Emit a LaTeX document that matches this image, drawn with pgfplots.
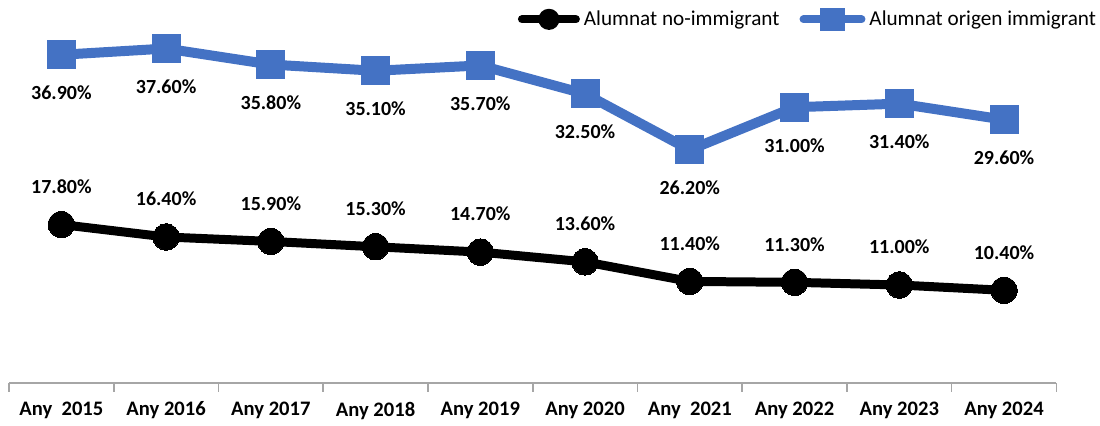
\documentclass[border=0pt]{standalone}
\usepackage{fontspec}
\setmainfont{Carlito}
\usepackage{pgfplots}
\pgfplotsset{compat=1.18}
\definecolor{serblue}{RGB}{68,114,196}
\definecolor{axgray}{RGB}{166,166,166}

\pgfplotstableread{
x nonimm imm
0 17.8 36.9
1 16.4 37.6
2 15.9 35.8
3 15.3 35.1
4 14.7 35.7
5 13.6 32.5
6 11.4 26.2
7 11.3 31.0
8 11.0 31.4
9 10.4 29.6
}\dades

\begin{document}
\begin{tikzpicture}
\begin{axis}[
  /pgf/number format/assume math mode=true,
  scale only axis,
  width=524pt,height=189pt,
  xmin=-0.5,xmax=9.5,ymin=0,ymax=42.5,
  hide y axis,
  axis x line=bottom,
  x axis line style={-,draw=axgray,line width=0.8pt},
  xtick={0,...,9},
  xticklabels={Any\ \ 2015,Any 2016,Any 2017,Any 2018,Any 2019,Any 2020,Any\ \ 2021,Any 2022,Any 2023,Any 2024},
  major tick length=0pt,
  xticklabel style={font=\bfseries\fontsize{10.3}{12}\selectfont,yshift=-6pt},
  extra x ticks={-0.5,0.5,...,9.5},
  extra x tick labels={},
  extra x tick style={major tick length=4.5pt,tick align=outside,tick style={draw=axgray,line width=0.8pt}},
  clip=false,
  legend columns=2,
  legend style={draw=none,fill=none,at={(rel axis cs:1.042,0.962)},anchor=east,
    font=\fontsize{10.6}{12}\selectfont,inner sep=0pt,
    /tikz/every even column/.append style={column sep=8pt}},
  legend cell align=left,
  nodes near coords={\pgfmathprintnumber[fixed,fixed zerofill,precision=2]{\pgfplotspointmeta}\%},
  every node near coord/.append style={font=\bfseries\fontsize{10}{12}\selectfont,anchor=center},
]
\addplot[black,line width=4.5pt,mark=*,mark size=6.6pt,mark options={draw=none,line width=0pt},
  every node near coord/.append style={yshift=19pt,black},
  legend image code/.code={\draw[black,line width=4pt,line cap=round] (0pt,0pt)--(27pt,0pt);\fill[black] (13.5pt,0pt) circle (3pt);}]
  table[x=x,y=nonimm] {\dades};
\addlegendentry{Alumnat no-immigrant}
\addplot[serblue,line width=5pt,mark=square*,mark size=7pt,mark options={draw=none,line width=0pt},
  every node near coord/.append style={yshift=-19pt,black},
  legend image code/.code={\draw[serblue,line width=4pt,line cap=round] (0pt,0pt)--(29pt,0pt);\fill[serblue] (10.75pt,-3.25pt) rectangle (18.25pt,3.25pt);}]
  table[x=x,y=imm] {\dades};
\addlegendentry{Alumnat origen immigrant}
\end{axis}
\path[use as bounding box] (current axis.south west) ++(-4.5pt,-19pt) rectangle ++(550pt,210.5pt);
\end{tikzpicture}
\end{document}
